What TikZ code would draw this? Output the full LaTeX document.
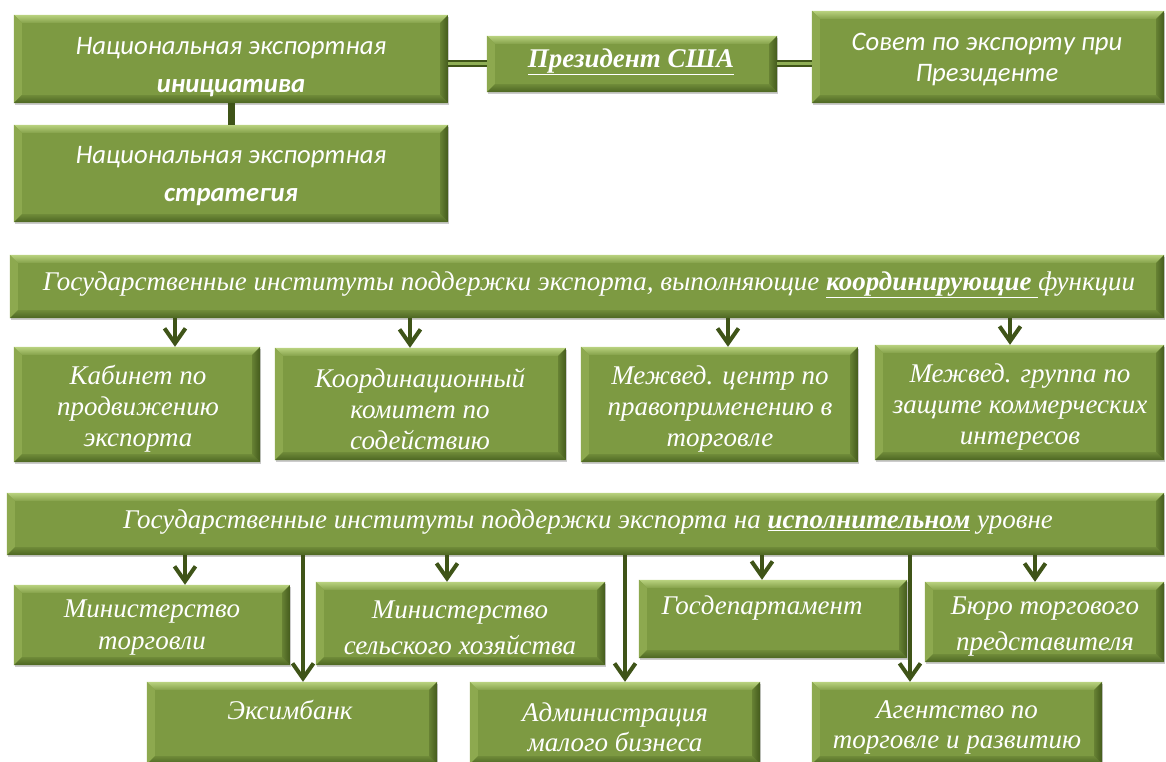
\documentclass[tikz,border=0pt]{standalone}
\usepackage{fontspec}
\setmainfont{Liberation Serif}
\newfontfamily\calfont{Carlito}
\usetikzlibrary{arrows.meta,fit,shadows,calc}
\definecolor{gfill}{HTML}{7D9A42}
\definecolor{gtop}{HTML}{B9D27F}
\definecolor{gleft}{HTML}{8DA94F}
\definecolor{gbot}{HTML}{4C6522}
\definecolor{gright}{HTML}{435A1C}
\definecolor{conn}{HTML}{3F5418}
\definecolor{connl}{HTML}{8FAE55}
\tikzset{
  gbase/.style={fill=gfill, draw=none, inner sep=0pt,
    drop shadow={shadow xshift=1pt, shadow yshift=-2pt, opacity=0.2, fill=black}},
  ser/.style={text=white, align=center, inner sep=0pt, font=\fontsize{27}{31}\selectfont\itshape},
  san/.style={text=white, align=center, inner sep=0pt, font=\calfont\fontsize{26.7}{38}\selectfont\itshape},
  arr/.style={draw=conn, line width=4pt, -{Straight Barb[length=15pt,width=21pt,line width=4pt]}},
  tube/.style={draw=conn, line width=7pt},
  tubein/.style={draw=connl, line width=3pt},
}
\newcommand\bw{8pt}
\newcommand\gbox[3]{%
  \node[gbase, fit={#2 #3}] (#1) {};
  \shade[top color=gtop, bottom color=gfill!85!gtop] (#1.north west) -- (#1.north east) -- ([shift={(-\bw,-\bw)}]#1.north east) -- ([shift={(\bw,-\bw)}]#1.north west) -- cycle;
  \fill[gleft] (#1.north west) -- ([shift={(\bw,-\bw)}]#1.north west) -- ([shift={(\bw,\bw)}]#1.south west) -- (#1.south west) -- cycle;
  \shade[top color=gfill!70!gbot, bottom color=gbot] (#1.south west) -- ([shift={(\bw,\bw)}]#1.south west) -- ([shift={(-\bw,\bw)}]#1.south east) -- (#1.south east) -- cycle;
  \shade[left color=gfill!60!gright, right color=gright] (#1.south east) -- ([shift={(-\bw,\bw)}]#1.south east) -- ([shift={(-\bw,-\bw)}]#1.north east) -- (#1.north east) -- cycle;
}
\begin{document}
\begin{tikzpicture}[x=1pt,y=-1pt]
\useasboundingbox (0,0) rectangle (1166,762);
% top section
\gbox{init}{(14,15)}{(448,103)}
\gbox{strat}{(14,125)}{(448,222)}
\gbox{pres}{(487,36)}{(777,92)}
\gbox{sovet}{(812,11)}{(1164,103)}
\draw[tube] (init.east |- pres.west) -- (pres.west);
\draw[tubein] (init.east |- pres.west) -- (pres.west);
\draw[tube] (pres.east) -- (pres.east -| sovet.west);
\draw[tubein] (pres.east) -- (pres.east -| sovet.west);
\draw[tube] (init.south) -- (strat.north);
\node[san] (init-t) at (231,67) {Национальная экспортная\\\textbf{инициатива}};
\node[san] (strat-t) at (231,176) {Национальная экспортная\\\textbf{стратегия}};
\node[ser] (pres-t) at (631,62) {\textbf{\underline{Президент США}}};
\node[san, font=\calfont\fontsize{26.7}{31}\selectfont\itshape] (sovet-t) at (987,60) {Совет по экспорту при\\Президенте};
% coordinating level
\gbox{coord}{(10,255)}{(1164,318)}
\node[ser] (coord-t) at (589,285) {Государственные институты поддержки экспорта, выполняющие \underline{\textbf{координирующие}\ }функции};
\gbox{kab}{(14,347)}{(260,462)}
\gbox{koord}{(275,348)}{(566,460)}
\gbox{mctr}{(581,347)}{(858,462)}
\gbox{mgrp}{(875,345)}{(1164,460)}
\draw[arr] (coord.south -| 175,0) -- (kab.north -| 175,0);
\draw[arr] (coord.south -| 410,0) -- (koord.north -| 410,0);
\draw[arr] (coord.south -| 728,0) -- (mctr.north -| 728,0);
\draw[arr] (coord.south -| 1010,0) -- (mgrp.north -| 1010,0);
\node[ser] (kab-t) at (138,409) {Кабинет по\\продвижению\\экспорта};
\node[ser] (koord-t) at (420,409) {Координационный\\комитет по\\содействию};
\node[ser] (mctr-t) at (720,409) {Межвед. центр по\\правоприменению в\\торговле};
\node[ser] (mgrp-t) at (1020,407) {Межвед. группа по\\защите коммерческих\\интересов};
% executive level
\gbox{exec}{(7,493)}{(1164,555)}
\node[ser] (exec-t) at (588,522) {Государственные институты поддержки экспорта на \underline{\textbf{исполнительном}} уровне};
\gbox{mtorg}{(14,585)}{(290,665)}
\gbox{msh}{(316,582)}{(605,665)}
\gbox{gosdep}{(639,580)}{(907,658)}
\gbox{buro}{(925,582)}{(1164,662)}
\gbox{exim}{(147,682)}{(437,764)}
\gbox{admin}{(470,682)}{(760,764)}
\gbox{agency}{(812,682)}{(1102,764)}
\draw[arr] (exec.south -| 185,0) -- (mtorg.north -| 185,0);
\draw[arr] (exec.south -| 447,0) -- (msh.north -| 447,0);
\draw[arr] (exec.south -| 762,0) -- (gosdep.north -| 762,0);
\draw[arr] (exec.south -| 1035,0) -- (buro.north -| 1035,0);
\draw[arr] (exec.south -| 303,0) -- (exim.north -| 303,0);
\draw[arr] (exec.south -| 625,0) -- (admin.north -| 625,0);
\draw[arr] (exec.south -| 910,0) -- (agency.north -| 910,0);
\node[ser, font=\fontsize{27}{32}\selectfont\itshape] (mtorg-t) at (152,628) {Министерство\\торговли};
\node[ser, font=\fontsize{27}{36}\selectfont\itshape] (msh-t) at (460,628) {Министерство\\сельского хозяйства};
\node[ser] (gosdep-t) at (762,608) {Госдепартамент};
\node[ser, font=\fontsize{27}{36}\selectfont\itshape] (buro-t) at (1045,627) {Бюро торгового\\представителя};
\node[ser] (exim-t) at (290,710) {Эксимбанк};
\node[ser, font=\fontsize{27}{30}\selectfont\itshape] (admin-t) at (615,727) {Администрация\\малого бизнеса};
\node[ser, font=\fontsize{27}{30}\selectfont\itshape] (agency-t) at (957,727) {Агентство по\\торговле и развитию};
\end{tikzpicture}
\end{document}
